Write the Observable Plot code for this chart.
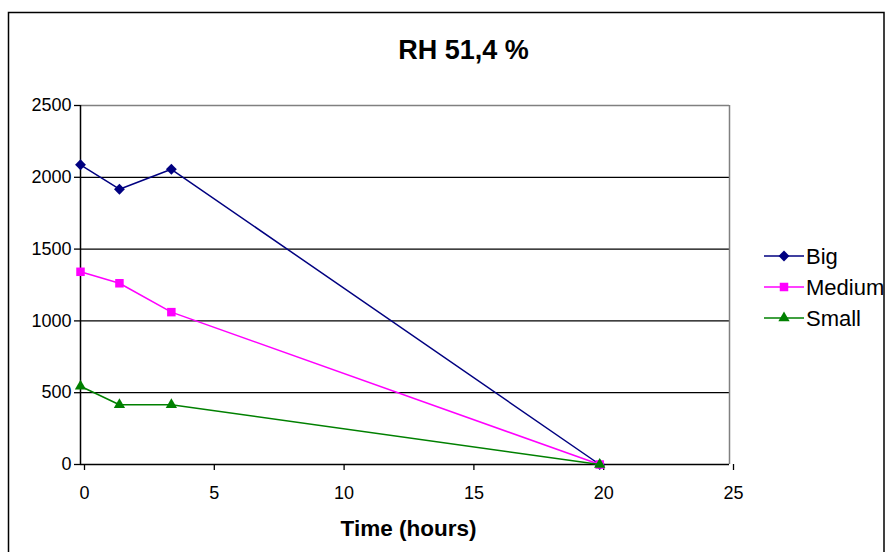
<!DOCTYPE html>
<html>
<head>
<meta charset="utf-8">
<script src="https://cdn.jsdelivr.net/npm/d3@7"></script>
<script src="https://cdn.jsdelivr.net/npm/@observablehq/plot@0.6"></script>
<style>
  html, body { margin: 0; padding: 0; background: #fff; }
  #wrap { position: relative; width: 887px; height: 552px; overflow: hidden; font-family: "Liberation Sans", Arial, sans-serif; }
  #wrap > svg { position: absolute; left: 0; top: 0; }
</style>
</head>
<body>
<div id="wrap"></div>
<script>
const title = "RH 51,4 %";
const xLabel = "Time (hours)";
const times = [0, 1.5, 3.5, 20];
const big = [2087, 1917, 2056, 0];
const medium = [1342, 1262, 1061, 0];
const small = [545, 416, 416, 0];
const seriesNames = ["Big", "Medium", "Small"];
const seriesColors = ["#000080", "#FF00FF", "#008000"];
const seriesSymbols = ["diamond2", "square", "triangle"];
const seriesR = [4.9, 4.8, 4.2];
const xTicks = [0, 5, 10, 15, 20, 25];
const yTicks = [0, 500, 1000, 1500, 2000, 2500];
const gridValues = [500, 1000, 1500, 2000];

const seriesValues = [big, medium, small];
const rows = seriesNames.flatMap((name, i) =>
  times.map((t, j) => ({series: name, time: t, value: seriesValues[i][j]})));

const lineMarks = seriesNames.flatMap((name, i) => {
  const d = rows.filter(r => r.series === name);
  return [
    Plot.line(d, {x: "time", y: "value", stroke: seriesColors[i], strokeWidth: 1.5}),
    Plot.dot(d, {x: "time", y: "value", symbol: () => seriesSymbols[i], r: seriesR[i], fill: seriesColors[i], stroke: "none"})
  ];
});

const chart = Plot.plot({
  width: 887,
  height: 552,
  marginLeft: 80,
  marginRight: 158,
  marginTop: 105,
  marginBottom: 88,
  style: {fontFamily: "'Liberation Sans', Arial, sans-serif", fontSize: "18px", color: "#000", background: "transparent"},
  x: {domain: [0, 25]},
  y: {domain: [0, 2500]},
  symbol: {type: "identity"},
  marks: [
    Plot.ruleY(gridValues, {stroke: "#000", strokeWidth: 1.3}),
    Plot.ruleY([2500], {stroke: "#808080", strokeWidth: 1.5}),
    Plot.ruleX([25], {stroke: "#808080", strokeWidth: 1.5}),
    Plot.ruleX([0], {stroke: "#000", strokeWidth: 1.5}),
    Plot.ruleY([0], {stroke: "#000", strokeWidth: 1.5}),
    Plot.axisY({ticks: yTicks, tickSize: 6, tickPadding: 3, label: null, fontSize: 18, tickFormat: d => String(d), stroke: "#000", strokeWidth: 1.3}),
    Plot.axisX({ticks: xTicks, tickSize: 6, tickPadding: 16, label: null, fontSize: 18, dx: 4, tickFormat: d => String(d), stroke: "#000", strokeWidth: 1.3}),
    ...lineMarks
  ]
});
const wrap = document.getElementById("wrap");
wrap.appendChild(chart);

// Overlay: frame, title, axis title, legend
const ov = d3.select(wrap).append("svg")
  .attr("width", 887).attr("height", 552)
  .style("font-family", "'Liberation Sans', Arial, sans-serif");
ov.append("rect").attr("x", 8.5).attr("y", 12.5).attr("width", 875.5).attr("height", 560)
  .attr("fill", "none").attr("stroke", "#000").attr("stroke-width", 1.5);
ov.append("text").attr("x", 463.5).attr("y", 59).attr("text-anchor", "middle")
  .attr("font-size", 27).attr("font-weight", "bold").text(title);
ov.append("text").attr("x", 408.5).attr("y", 536).attr("text-anchor", "middle")
  .attr("font-size", 22.5).attr("font-weight", "bold").text(xLabel);

const legendY = [256, 287, 318];
const sym = d3.scaleOrdinal().domain(seriesSymbols).range([d3.symbolDiamond2, d3.symbolSquare, d3.symbolTriangle]);
seriesNames.forEach((name, i) => {
  const g = ov.append("g").attr("transform", `translate(0,${legendY[i]})`);
  g.append("line").attr("x1", 764).attr("x2", 804).attr("y1", 0).attr("y2", 0)
    .attr("stroke", seriesColors[i]).attr("stroke-width", 1.5);
  g.append("path").attr("transform", "translate(784,0)")
    .attr("d", d3.symbol(sym(seriesSymbols[i]), Math.PI * seriesR[i] * seriesR[i])())
    .attr("fill", seriesColors[i]);
  g.append("text").attr("x", 806).attr("y", 0).attr("dy", "0.36em")
    .attr("font-size", 22).text(name);
});
</script>
</body>
</html>
